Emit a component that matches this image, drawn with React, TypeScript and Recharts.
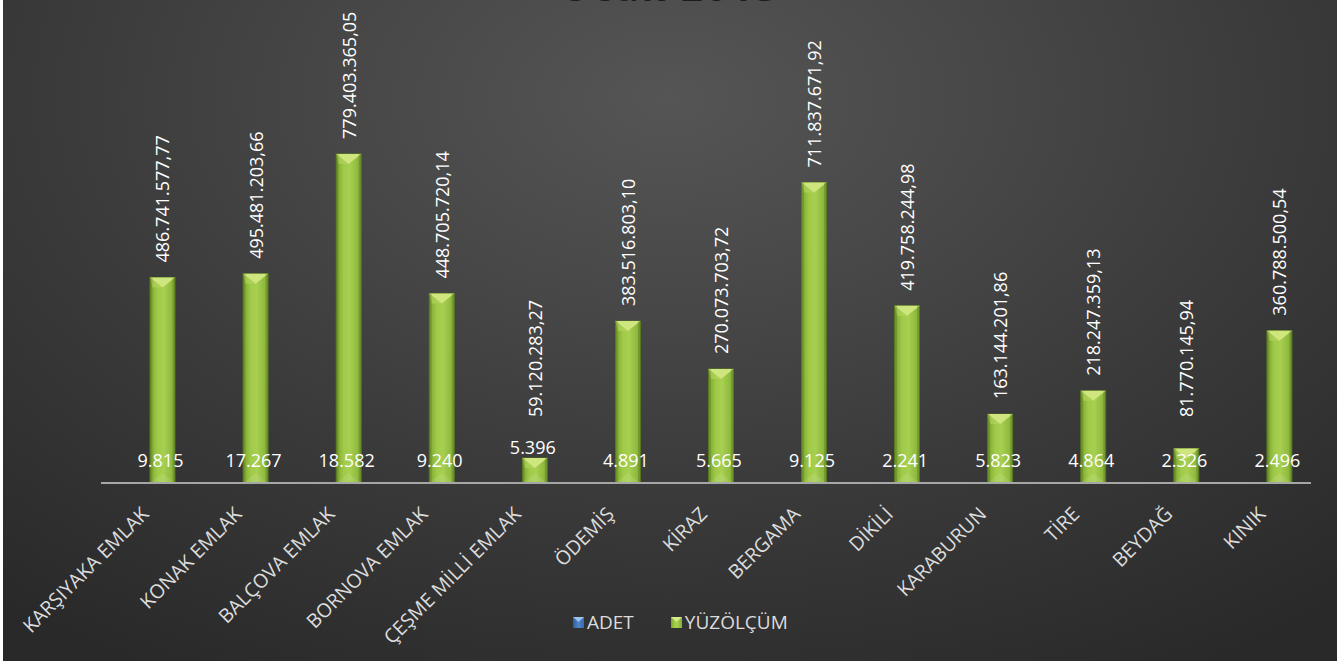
import React from 'react';
import { BarChart, Bar, XAxis, YAxis, Legend, LabelList } from 'recharts';

const titleText = 'Ocak 2013';
const categories = [
  'KARŞIYAKA EMLAK',
  'KONAK EMLAK',
  'BALÇOVA EMLAK',
  'BORNOVA EMLAK',
  'ÇEŞME MİLLİ EMLAK',
  'ÖDEMİŞ',
  'KİRAZ',
  'BERGAMA',
  'DİKİLİ',
  'KARABURUN',
  'TİRE',
  'BEYDAĞ',
  'KINIK',
];
const adetValues = [9815, 17267, 18582, 9240, 5396, 4891, 5665, 9125, 2241, 5823, 4864, 2326, 2496];
const yuzolcumValues = [
  486741577.77, 495481203.66, 779403365.05, 448705720.14, 59120283.27, 383516803.1,
  270073703.72, 711837671.92, 419758244.98, 163144201.86, 218247359.13, 81770145.94,
  360788500.54,
];
const seriesNames = ['ADET', 'YÜZÖLÇÜM'];
const yDomain = [0, 900000000];

const data = categories.map((name, i) => ({ name, adet: adetValues[i], yuz: yuzolcumValues[i] }));

const FONT = '"Open Sans", "DejaVu Sans", sans-serif';

function fmt(v: number, decimals: number) {
  const fixed = v.toFixed(decimals);
  const parts = fixed.split('.');
  const withDots = parts[0].replace(/\B(?=(\d{3})+(?!\d))/g, '.');
  return parts[1] ? withDots + ',' + parts[1] : withDots;
}

const GreenBar = (props: any) => {
  const { x, y, width, height } = props;
  if (!height || height <= 0) return null;
  const cap = Math.min(10, height / 2);
  return (
    <g>
      <rect x={x} y={y} width={width} height={height} fill="url(#gBody)" stroke="#5c851b" strokeWidth={0.8} />
      <polygon points={`${x},${y} ${x + width},${y} ${x + width / 2},${y + cap}`} fill="#cfe67f" />
      <polygon points={`${x},${y} ${x + width / 2},${y + cap} ${x + 2.5},${y + cap}`} fill="#b5d660" opacity={0.6} />
      <polygon
        points={`${x},${y + height} ${x + width},${y + height} ${x + width / 2},${y + height - cap}`}
        fill="#ffffff"
        opacity={0.1}
      />
      <rect x={x} y={y} width={2.5} height={height} fill="#000" opacity={0.12} />
      <rect x={x + width - 2.5} y={y} width={2.5} height={height} fill="#000" opacity={0.15} />
    </g>
  );
};

const BlueBar = (props: any) => {
  const { x, y, width, height } = props;
  const h = Math.max(0, height || 0);
  return <rect x={x} y={y} width={width} height={h} fill="url(#gBlue)" />;
};

const YuzLabel = (props: any) => {
  const { x, y, width, height, value } = props;
  const cx = x + width / 2;
  const base = y + height;
  const bottom = Math.min(y - 15, base - 66);
  return (
    <text
      x={cx}
      y={bottom}
      transform={`rotate(-90 ${cx} ${bottom})`}
      textAnchor="start"
      dominantBaseline="central"
      fill="#ffffff"
      fontSize={18}
      fontFamily={FONT}
    >
      {fmt(value, 2)}
    </text>
  );
};

const AdetLabel = (props: any) => {
  const { x, y, width, height, value } = props;
  const cx = x + width / 2 - 2;
  const base = y + height;
  let cy = base - 23;
  if (y > base - 32) cy = y - 11;
  return (
    <text x={cx} y={cy} textAnchor="middle" dominantBaseline="central" fill="#ffffff" fontSize={18} fontFamily={FONT}>
      {fmt(value, 0)}
    </text>
  );
};

const CategoryTick = (props: any) => {
  const { x, y, payload } = props;
  const px = x - 3;
  const py = y + 19;
  return (
    <text
      x={px}
      y={py}
      transform={`rotate(-45 ${px} ${py})`}
      textAnchor="end"
      dominantBaseline="central"
      fill="#dcdcdc"
      fontSize={19.5}
      fontFamily={FONT}
    >
      {payload.value}
    </text>
  );
};

const Marker = ({ kind }: { kind: string }) => (
  <svg width={11} height={11} style={{ display: 'block' }}>
    <rect x={0} y={0} width={11} height={11} fill={kind === 'blue' ? 'url(#gBlue)' : 'url(#gBody)'} />
    <polygon points="0,0 11,0 5.5,5" fill={kind === 'blue' ? '#9cc3f0' : '#d6ec8a'} />
  </svg>
);

const renderLegend = () => (
  <div style={{ display: 'flex', alignItems: 'center', fontFamily: FONT, fontSize: 19, color: '#dcdcdc', lineHeight: '24px' }}>
    <Marker kind="blue" />
    <span style={{ marginLeft: 3, marginRight: 37 }}>{seriesNames[0]}</span>
    <Marker kind="green" />
    <span style={{ marginLeft: 3 }}>{seriesNames[1]}</span>
  </div>
);

export default function App() {
  return (
    <div style={{ width: 1342, height: 661, background: '#ffffff', position: 'relative', overflow: 'hidden' }}>
      <style>{`body{margin:0}`}</style>
      <svg width={0} height={0} style={{ position: 'absolute' }}>
        <defs>
          <linearGradient id="gBody" x1="0" y1="0" x2="1" y2="0">
            <stop offset="0%" stopColor="#7aa52e" />
            <stop offset="30%" stopColor="#a0ca48" />
            <stop offset="55%" stopColor="#a7cf51" />
            <stop offset="100%" stopColor="#85b036" />
          </linearGradient>
          <linearGradient id="gBlue" x1="0" y1="0" x2="1" y2="0">
            <stop offset="0%" stopColor="#2f5f9e" />
            <stop offset="50%" stopColor="#4f85c9" />
            <stop offset="100%" stopColor="#3a6db0" />
          </linearGradient>
        </defs>
      </svg>
      <div
        style={{
          position: 'absolute',
          left: 3,
          top: 0,
          width: 1334,
          height: 661,
          background:
            'radial-gradient(ellipse 78% 100% at 50% 15%, #555555 0%, #484848 30%, #3a3a3a 60%, #292929 100%)',
        }}
      >
        <BarChart
          width={1334}
          height={661}
          data={data}
          margin={{ top: 103, right: 26, bottom: 0, left: 98 }}
          barGap={5}
        >
          <XAxis
            dataKey="name"
            interval={0}
            tickLine={false}
            axisLine={{ stroke: '#a6a6a6', strokeWidth: 2 }}
            tick={<CategoryTick />}
            height={178}
          />
          <YAxis hide domain={yDomain} />
          <Legend
            content={renderLegend}
            verticalAlign="middle"
            align="center"
            layout="horizontal"
            wrapperStyle={{ top: 610, left: 570, width: 300, height: 24 }}
          />
          <Bar dataKey="adet" name={seriesNames[0]} barSize={25} shape={<BlueBar />} isAnimationActive={false} />
          <Bar dataKey="yuz" name={seriesNames[1]} barSize={25} shape={<GreenBar />} isAnimationActive={false}>
            <LabelList dataKey="yuz" content={<YuzLabel />} />
            <LabelList dataKey="adet" content={<AdetLabel />} />
          </Bar>
        </BarChart>
        <svg width={1334} height={661} style={{ position: 'absolute', left: 0, top: 0, pointerEvents: 'none' }}>
          <text
            x={667}
            y={0.5}
            textAnchor="middle"
            fill="#1c1c1c"
            fontSize={38}
            fontWeight="bold"
            letterSpacing={3}
            fontFamily={FONT}
          >
            {titleText}
          </text>
        </svg>
      </div>
    </div>
  );
}
